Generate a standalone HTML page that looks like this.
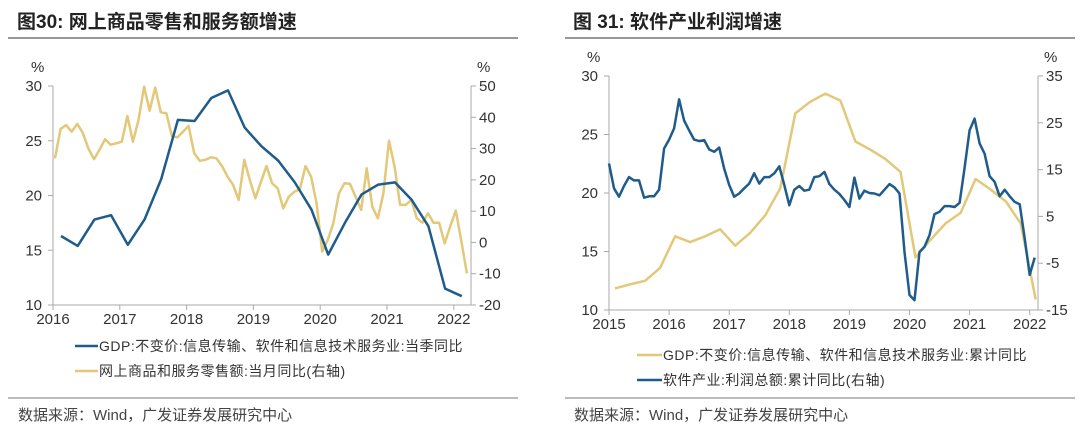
<!DOCTYPE html>
<html><head><meta charset="utf-8">
<style>
body{margin:0;background:#fff;width:1080px;height:431px;overflow:hidden;font-family:"Liberation Sans","Noto Sans CJK SC",sans-serif;}
svg{position:absolute;left:0;top:0}
</style></head>
<body>
<svg id="c" width="1080" height="431">
<text x="17" y="28" font-size="19" font-weight="bold" fill="#222" font-family="'Liberation Sans','Noto Sans CJK SC',sans-serif">图30:  网上商品零售和服务额增速</text>
<line x1="8" y1="38" x2="518" y2="38" stroke="#777" stroke-width="1.5"/>
<text x="573" y="28" font-size="19" font-weight="bold" fill="#222" font-family="'Liberation Sans','Noto Sans CJK SC',sans-serif">图 31:  软件产业利润增速</text>
<line x1="565" y1="38" x2="1075" y2="38" stroke="#777" stroke-width="1.5"/>
<line x1="8" y1="398" x2="518" y2="398" stroke="#777" stroke-width="1"/>
<line x1="565" y1="398" x2="1075" y2="398" stroke="#777" stroke-width="1"/>
<text x="18" y="420" font-size="15" fill="#444" font-family="'Liberation Sans','Noto Sans CJK SC',sans-serif">数据来源：Wind，广发证券发展研究中心</text>
<text x="574" y="420" font-size="15" fill="#444" font-family="'Liberation Sans','Noto Sans CJK SC',sans-serif">数据来源：Wind，广发证券发展研究中心</text>
<g font-size="14" fill="#333" letter-spacing="0.5" font-family="'Liberation Sans','Noto Sans CJK SC',sans-serif">
<line x1="75" y1="346" x2="98" y2="346" stroke="#1f5c8c" stroke-width="2.5"/>
<text x="99" y="351">GDP:不变价:信息传输、软件和信息技术服务业:当季同比</text>
<line x1="75" y1="371" x2="98" y2="371" stroke="#e2c878" stroke-width="2.5"/>
<text x="99" y="376">网上商品和服务零售额:当月同比(右轴)</text>
<line x1="637" y1="355" x2="662" y2="355" stroke="#e2c878" stroke-width="2.5"/>
<text x="663" y="360">GDP:不变价:信息传输、软件和信息技术服务业:累计同比</text>
<line x1="637" y1="380" x2="662" y2="380" stroke="#1f5c8c" stroke-width="2.5"/>
<text x="663" y="385">软件产业:利润总额:累计同比(右轴)</text>
</g>
</svg>
<script>
// Left chart data
const L_years = [2016,2017,2018,2019,2020,2021,2022];
const L_leftTicks = [10,15,20,25,30];
const L_rightTicks = [-20,-10,0,10,20,30,40,50];
const L_gdp = [16.3,15.4,17.8,18.2,15.5,17.8,21.5,26.9,26.8,28.9,29.6,26.2,24.5,23.2,21.2,18.7,14.6,17.5,20.1,21,21.2,19.6,17.2,11.5,10.8];
const L_retail = [26.9,36.3,37.5,35.4,37.9,35,30,26.6,29.6,33,31.2,31.7,32.2,40.4,32.2,39.1,49.8,42.1,49.5,41.6,41.3,34,33.6,35.4,37.2,28.5,26.1,26.4,27.2,26.9,24.4,21,18.4,13.6,26.4,20,14.1,19.4,24.4,18.9,17.3,10.9,14.6,16.2,17,24.4,21,12.5,-2.9,0.8,6.1,15.7,18.9,18.7,14.6,10.4,23.7,11.4,7.7,15.7,32.5,24.2,12,12,13.6,7.7,6.3,9.3,6.3,6.3,-0.3,5.1,10.2,0.3,-9.9];
// Right chart data
const R_years = [2015,2016,2017,2018,2019,2020,2021,2022];
const R_leftTicks = [10,15,20,25,30];
const R_rightTicks = [-15,-5,5,15,25,35];
const R_gdp = [11.85,12.2,12.5,13.6,16.3,15.8,16.3,16.9,15.5,16.6,18.1,20.4,26.8,27.8,28.5,27.9,24.4,23.7,22.9,21.8,14.5,16,17.4,18.3,21.2,20.3,19.3,17.4,10.9];
const R_profit = [16.3,11,9.2,11.5,13.4,12.7,12.7,9,9.3,9.3,10.7,19.5,21.4,23.8,30,25.5,23.4,21.4,21.1,21.3,19.3,18.8,19.7,15.2,11.7,9.2,9.9,11,12,14.2,12,13.4,13.4,14.2,15.7,11.7,7.4,10.7,11.5,10.5,10.7,13.4,13.6,14.5,11.9,10.7,9.8,8.5,7,13.3,8.8,10.5,10,9.9,9.5,10.7,11.9,11.2,9.9,-2.6,-11.8,-12.9,-2.6,-1.5,1,5.5,6,7.2,7.2,7,7.9,15.4,23.4,25.9,20.6,18.4,13.6,12.4,9.3,10.7,9.3,8.1,7.6,0.3,-7.5,-3.8];

const NS='http://www.w3.org/2000/svg';
const svg=document.getElementById('c');
function el(tag,attrs,parent){const e=document.createElementNS(NS,tag);for(const k in attrs)e.setAttribute(k,attrs[k]);(parent||svg).appendChild(e);return e;}
function lin(d0,d1,r0,r1){return v=>r0+(v-d0)*(r1-r0)/(d1-d0);}
function txt(x,y,s,anchor,name){const t=el('text',{x:x,y:y,'font-size':15,fill:'#333','text-anchor':anchor,'font-family':'Liberation Sans, sans-serif'});t.textContent=s;


return t;}

function chart(o){
  const g=el('g',{});
  
  
  const xs=lin(o.y0,o.y0+1,o.x0,o.x0+o.perYear);
  const yl=lin(o.lMin,o.lMax,o.bottom,o.top);
  const yr=lin(o.rMin,o.rMax,o.bottom,o.top);
  const ax=el('path',{d:`M${o.x0},${o.top}V${o.bottom}H${o.xr}V${o.top}`,fill:'none',stroke:'#aaa','stroke-width':1},g);
  
  
  o.lt.forEach(v=>{const y=yl(v);el('line',{x1:o.x0-5,y1:y,x2:o.x0,y2:y,stroke:'#aaa'},g);txt(o.x0-11,y+5,v,'end','left-y-tick-label');});
  o.rt.forEach(v=>{const y=yr(v);el('line',{x1:o.xr,y1:y,x2:o.xr+5,y2:y,stroke:'#aaa'},g);txt(o.xr+8,y+5,v,'start','right-y-tick-label');});
  o.years.forEach(v=>{const x=xs(v);el('line',{x1:x,y1:o.bottom,x2:x,y2:o.bottom+5,stroke:'#aaa'},g);txt(x,o.bottom+19,v,'middle','x-tick-label');});
  txt(o.x0-22,o.top-14,'%','start','left-y-unit');
  txt(o.xr+6,o.top-14,'%','start','right-y-unit');
  o.series.forEach(s=>{
    const sc=s.axis==='l'?yl:yr;
    const d=s.data.map((v,i)=>(i?'L':'M')+xs(o.y0+s.off+i*s.step).toFixed(1)+','+sc(v).toFixed(1)).join('');
    const p=el('path',{d:d,fill:'none',stroke:s.color,'stroke-width':2.5,'stroke-linejoin':'round'},g);
    
    
  });
}
chart({name:'online-retail-chart',x0:53,xr:471,top:86,bottom:305,y0:2016,perYear:66.8,lMin:10,lMax:30,rMin:-20,rMax:50,
  lt:L_leftTicks,rt:L_rightTicks,years:L_years,
  series:[{data:L_retail,axis:'r',off:0.03,step:1/12,color:'#e2c878',name:'online-retail-line'},
          {data:L_gdp,axis:'l',off:0.12,step:0.25,color:'#1f5c8c',name:'gdp-quarterly-line'}]});
chart({name:'software-profit-chart',x0:609,xr:1038,top:76,bottom:310,y0:2015,perYear:60.1,lMin:10,lMax:30,rMin:-15,rMax:35,
  lt:R_leftTicks,rt:R_rightTicks,years:R_years,
  series:[{data:R_gdp,axis:'l',off:0.1,step:0.25,color:'#e2c878',name:'gdp-cumulative-line'},
          {data:R_profit,axis:'r',off:0,step:1/12,color:'#1f5c8c',name:'software-profit-line'}]});
</script>
</body></html>
